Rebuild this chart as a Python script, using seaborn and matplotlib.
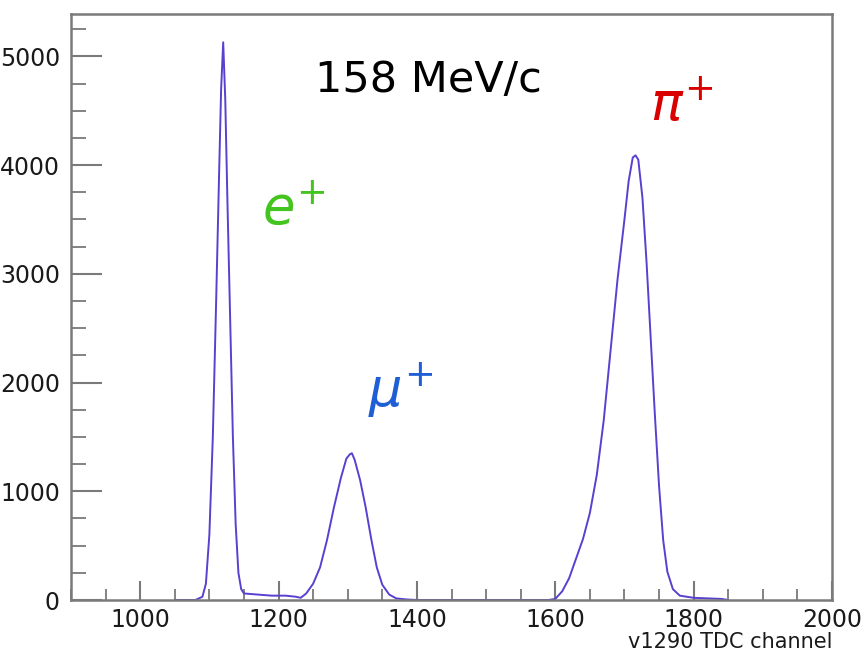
import numpy as np
import pandas as pd
import matplotlib
matplotlib.use("Agg")
import matplotlib.pyplot as plt
import seaborn as sns
from matplotlib.ticker import MultipleLocator

# ---- data (TDC channel, counts) ----
channel = [1050, 1080, 1090, 1095, 1100, 1105, 1110, 1114, 1117, 1120, 1123, 1126,
           1130, 1134, 1138, 1142, 1146, 1150, 1170, 1190, 1210, 1225, 1232,
           1240, 1250, 1260, 1270, 1280, 1290, 1298, 1303, 1306, 1310, 1318, 1326,
           1334, 1342, 1350, 1360, 1370, 1385, 1400, 1500, 1590,
           1600, 1610, 1620, 1630, 1640, 1650, 1660, 1670, 1680, 1690, 1700, 1706,
           1712, 1716, 1720, 1726, 1732, 1738, 1744, 1750, 1756, 1762, 1770, 1780,
           1800, 1820, 1840, 1850]
counts = [0, 0, 30, 150, 600, 1500, 2800, 3900, 4700, 5130, 4600, 3700,
          2600, 1500, 700, 250, 100, 60, 50, 40, 40, 30, 20,
          60, 150, 300, 550, 850, 1120, 1300, 1340, 1350, 1290, 1100, 850,
          560, 300, 140, 50, 15, 5, 0, 0, 0,
          10, 80, 200, 380, 560, 800, 1150, 1650, 2300, 2950, 3500, 3850,
          4070, 4090, 4050, 3700, 3100, 2400, 1700, 1050, 550, 260, 100, 40,
          20, 15, 10, 0]

x_ticks = [1000, 1200, 1400, 1600, 1800, 2000]
y_ticks = [0, 1000, 2000, 3000, 4000, 5000]
y_ticklabels = ["0", "1000", "2000", "3000", "4000", "5000"]
x_label = "v1290 TDC channel"
title_text = "158 MeV/c"
particles = ["$e^{+}$", "$\\mu^{+}$", "$\\pi^{+}$"]
particle_colors = ["#44c41e", "#1f5fd6", "#d90000"]

df = pd.DataFrame({"channel": channel, "counts": counts})

sns.set_style("white")
plt.rcParams["font.family"] = ["DejaVu Sans"]

W, H = 867, 652
fig = plt.figure(figsize=(W / 100, H / 100), dpi=100)
ax = fig.add_axes([71 / W, 52 / H, (832 - 71) / W, (600 - 14) / H])

sns.lineplot(data=df, x="channel", y="counts", ax=ax, color="#5a3fd0",
             linewidth=1.4, estimator=None, sort=False)

ax.set_xlim(900, 2000)
ax.set_ylim(0, 5390)
ax.set_xticks(x_ticks)
ax.set_yticks(y_ticks)
ax.set_yticklabels(y_ticklabels)
ax.xaxis.set_minor_locator(MultipleLocator(50))
ax.yaxis.set_minor_locator(MultipleLocator(250))

for s in ax.spines.values():
    s.set_color("#7a7a7a")
    s.set_linewidth(1.8)

ax.tick_params(which="both", bottom=True, left=True, top=False, right=False)
ax.tick_params(axis="both", which="major", direction="in", color="#7a7a7a",
               width=1.5, labelsize=17, labelcolor="#1a1a1a")
ax.tick_params(axis="x", which="major", length=14, pad=6)
ax.tick_params(axis="y", which="major", length=22, pad=8)
ax.tick_params(axis="x", which="minor", direction="in", length=8, width=1.3, color="#7a7a7a")
ax.tick_params(axis="y", which="minor", direction="in", length=11, width=1.3, color="#7a7a7a")

ax.set_xlabel(x_label, fontsize=15, color="#1a1a1a", loc="right", labelpad=0)
ax.set_ylabel("")

ax.text(1417, 4780, title_text, fontsize=31, color="black", ha="center", va="center")
ax.text(1222, 3600, particles[0], fontsize=38, color=particle_colors[0], ha="center", va="center")
ax.text(1377, 1930, particles[1], fontsize=38, color=particle_colors[1], ha="center", va="center")
ax.text(1783, 4550, particles[2], fontsize=38, color=particle_colors[2], ha="center", va="center")

fig.savefig("out.png", dpi=100)
